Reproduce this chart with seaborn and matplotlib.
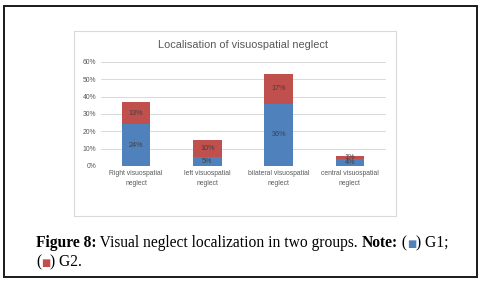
import matplotlib
matplotlib.use("Agg")
import matplotlib.pyplot as plt
import seaborn as sns
import pandas as pd
import numpy as np
from matplotlib.patches import Rectangle

categories = ["Right visuospatial\nneglect", "left visuospatial\nneglect",
              "bilateral visuospatial\nneglect", "central visuospatial\nneglect"]
g1 = [24, 5, 36, 4]
g2 = [13, 10, 17, 1.5]
g1_labels = ["24%", "5%", "36%", "4%"]
g2_labels = ["13%", "10%", "17%", "1%"]
yticks = [0, 10, 20, 30, 40, 50, 60]

BLUE = "#4F81BD"
RED = "#C0504D"

sns.set_theme(style="white")
plt.rcParams['font.family'] = ['Liberation Sans', 'DejaVu Sans']

W, H = 483, 284
fig = plt.figure(figsize=(W / 100, H / 100), dpi=100)
fig.patch.set_facecolor("white")

def px(x0, y0, x1, y1):
    return [x0 / W, 1 - y1 / H, (x1 - x0) / W, (y1 - y0) / H]

ax = fig.add_axes(px(100.5, 62, 385.5, 166))

df = pd.DataFrame({"cat": categories, "g1": g1, "g2": g2})
df["total"] = df["g1"] + df["g2"]

sns.barplot(data=df, x="cat", y="total", color=RED, saturation=1, width=0.4,
            linewidth=0, ax=ax)
sns.barplot(data=df, x="cat", y="g1", color=BLUE, saturation=1, width=0.4,
            linewidth=0, ax=ax)

cont_blue = ax.containers[1]
for i, bb in enumerate(cont_blue):
    cx = bb.get_x() + bb.get_width() / 2
    ax.text(cx, g1[i] / 2, g1_labels[i], ha="center", va="center",
            fontsize=5.2, color="#404040")
    ax.text(cx, g1[i] + g2[i] / 2, g2_labels[i], ha="center", va="center",
            fontsize=5.2, color="#404040")

ax.set_ylim(0, 60)
ax.set_xlim(-0.5, 3.5)
ax.set_yticks(yticks)
ax.set_yticklabels([f"{t}%" for t in yticks])
ax.set_xlabel("")
ax.set_ylabel("")
ax.yaxis.grid(True, color="#D9D9D9", linewidth=0.7)
ax.set_axisbelow(True)
for s in ax.spines.values():
    s.set_visible(False)
ax.tick_params(axis="both", length=0, labelsize=4.9, colors="#595959", pad=3)
for lab in ax.get_xticklabels():
    lab.set_linespacing(1.6)

ax.set_title("Localisation of visuospatial neglect", fontsize=7.9,
             color="#595959", pad=10)

# chart frame and outer border
fig.patches.append(Rectangle((74 / W, 1 - 216 / H), (396 - 74) / W, (216 - 31) / H,
                             transform=fig.transFigure, fill=False,
                             edgecolor="#D9D9D9", linewidth=0.8))
fig.patches.append(Rectangle((3.5 / W, 1 - 277 / H), (477 - 3.5) / W, (277 - 6) / H,
                             transform=fig.transFigure, fill=False,
                             edgecolor="#1a1a1a", linewidth=1.4))

# caption with mixed styles
serif = ['Liberation Serif', 'DejaVu Serif']
fs = 11.2
renderer = fig.canvas.get_renderer()

def write_line(pieces, x0, y):
    x = x0
    for txt, weight, color, fam, size in pieces:
        t = fig.text(x / W, 1 - y / H, txt, fontsize=size, fontweight=weight,
                     color=color, family=fam, ha="left", va="baseline")
        bb = t.get_window_extent(renderer=renderer)
        x += bb.width

sq = ['DejaVu Sans']
write_line([("Figure 8:", "bold", "black", serif, fs),
            (" Visual neglect localization in two groups. ", "normal", "black", serif, fs),
            ("Note:", "bold", "black", serif, fs),
            (" (", "normal", "black", serif, fs),
            ("■", "normal", BLUE, sq, 7),
            (") G1;", "normal", "black", serif, fs)], 36, 247)
write_line([("(", "normal", "black", serif, fs),
            ("■", "normal", RED, sq, 7),
            (") G2.", "normal", "black", serif, fs)], 36, 266)

fig.savefig("out.png", dpi=100)
